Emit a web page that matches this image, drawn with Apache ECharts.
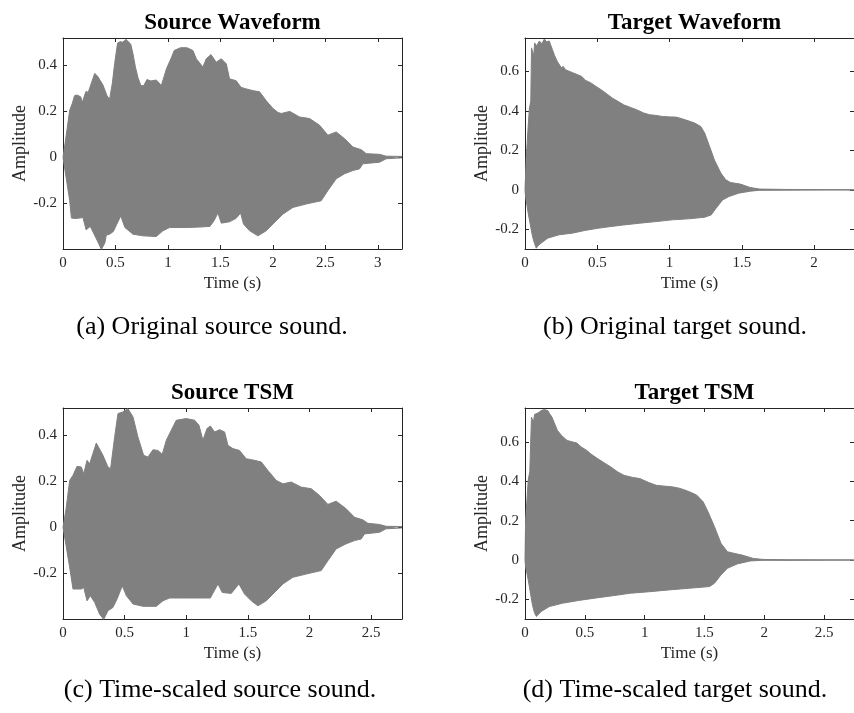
<!DOCTYPE html>
<html><head><meta charset="utf-8">
<script src="https://cdn.jsdelivr.net/npm/echarts@6/dist/echarts.min.js"></script>
<style>html,body{margin:0;padding:0;background:#fff;}#c{width:854px;height:713px;}</style>
</head><body><div id="c"></div>
<script>
// ---- Data (time in s, amplitude envelope) ----
const panelTitles = ['Source Waveform', 'Target Waveform', 'Source TSM', 'Target TSM'];
const captions = ['(a) Original source sound.', '(b) Original target sound.', '(c) Time-scaled source sound.', '(d) Time-scaled target sound.'];
const xMax = [3.23, 2.276, 2.75, 2.75];
const yMin = [-0.398, -0.30, -0.398, -0.30];
const yMax = [0.516, 0.77, 0.517, 0.773];
const xTickStep = 0.5;

const srcUpper = [[0,0],[0.02,0.06],[0.064,0.203],[0.089,0.233],[0.11,0.266],[0.134,0.269],[0.169,0.261],[0.185,0.237],[0.2,0.26],[0.22,0.285],[0.24,0.28],[0.27,0.32],[0.302,0.363],[0.33,0.35],[0.381,0.312],[0.42,0.265],[0.444,0.251],[0.47,0.32],[0.492,0.405],[0.52,0.494],[0.545,0.5],[0.57,0.498],[0.6,0.51],[0.619,0.516],[0.645,0.49],[0.667,0.447],[0.69,0.39],[0.714,0.345],[0.742,0.309],[0.77,0.31],[0.8,0.336],[0.837,0.33],[0.889,0.334],[0.937,0.31],[0.985,0.382],[1.032,0.43],[1.06,0.462],[1.12,0.474],[1.18,0.474],[1.238,0.462],[1.27,0.426],[1.333,0.39],[1.365,0.426],[1.41,0.444],[1.46,0.411],[1.508,0.426],[1.556,0.404],[1.587,0.339],[1.65,0.331],[1.697,0.302],[1.75,0.295],[1.81,0.288],[1.873,0.283],[1.937,0.244],[2.0,0.211],[2.05,0.193],[2.08,0.189],[2.16,0.198],[2.254,0.174],[2.35,0.167],[2.445,0.138],[2.524,0.095],[2.603,0.109],[2.683,0.08],[2.762,0.044],[2.842,0.032],[2.89,0.015],[3.016,0.012],[3.08,0.004],[3.23,0.003]];
const srcLower = [[0,0],[0.02,-0.06],[0.064,-0.189],[0.08,-0.264],[0.12,-0.266],[0.19,-0.262],[0.22,-0.315],[0.26,-0.30],[0.30,-0.337],[0.335,-0.37],[0.366,-0.40],[0.40,-0.37],[0.413,-0.337],[0.44,-0.335],[0.48,-0.322],[0.51,-0.293],[0.55,-0.255],[0.59,-0.305],[0.667,-0.334],[0.762,-0.341],[0.889,-0.344],[0.952,-0.319],[1.016,-0.305],[1.175,-0.305],[1.302,-0.303],[1.40,-0.30],[1.44,-0.275],[1.476,-0.242],[1.508,-0.286],[1.587,-0.28],[1.65,-0.265],[1.692,-0.242],[1.72,-0.29],[1.778,-0.319],[1.857,-0.341],[1.937,-0.319],[2.0,-0.29],[2.095,-0.247],[2.19,-0.218],[2.317,-0.203],[2.46,-0.189],[2.524,-0.145],[2.603,-0.094],[2.683,-0.072],[2.762,-0.058],[2.825,-0.051],[2.857,-0.029],[3.016,-0.022],[3.08,-0.007],[3.23,-0.003]];

const tgtUpper = [[0,0],[0.008,0.15],[0.02,0.30],[0.03,0.41],[0.04,0.45],[0.045,0.72],[0.055,0.73],[0.06,0.68],[0.067,0.745],[0.08,0.73],[0.1,0.755],[0.115,0.74],[0.134,0.765],[0.15,0.75],[0.168,0.755],[0.18,0.73],[0.19,0.711],[0.205,0.68],[0.224,0.651],[0.25,0.62],[0.265,0.625],[0.28,0.609],[0.31,0.6],[0.336,0.592],[0.36,0.585],[0.392,0.575],[0.42,0.555],[0.459,0.541],[0.49,0.525],[0.526,0.508],[0.56,0.49],[0.605,0.465],[0.64,0.45],[0.683,0.431],[0.73,0.418],[0.773,0.406],[0.82,0.39],[0.862,0.381],[0.9,0.378],[0.952,0.372],[1.0,0.37],[1.042,0.369],[1.08,0.362],[1.109,0.355],[1.15,0.345],[1.176,0.338],[1.216,0.321],[1.243,0.288],[1.277,0.22],[1.31,0.152],[1.355,0.085],[1.389,0.051],[1.422,0.037],[1.49,0.029],[1.557,0.012],[1.624,0.004],[1.8,0.002],[2.276,0.001]];
const tgtLower = [[0,0],[0.004,-0.034],[0.022,-0.118],[0.052,-0.237],[0.065,-0.27],[0.078,-0.296],[0.095,-0.28],[0.112,-0.27],[0.157,-0.245],[0.235,-0.228],[0.325,-0.22],[0.414,-0.206],[0.504,-0.195],[0.594,-0.186],[0.683,-0.178],[0.795,-0.169],[0.907,-0.161],[1.019,-0.152],[1.131,-0.147],[1.243,-0.139],[1.288,-0.127],[1.322,-0.093],[1.367,-0.051],[1.411,-0.034],[1.478,-0.017],[1.557,-0.007],[1.624,-0.002],[1.8,-0.001],[2.276,-0.001]];

const srcTsmUpper = [[0,0],[0.025,0.08],[0.054,0.203],[0.081,0.225],[0.114,0.264],[0.149,0.261],[0.168,0.232],[0.195,0.29],[0.216,0.275],[0.27,0.365],[0.324,0.312],[0.365,0.261],[0.386,0.254],[0.419,0.391],[0.446,0.493],[0.486,0.50],[0.527,0.514],[0.568,0.478],[0.608,0.391],[0.654,0.312],[0.689,0.304],[0.73,0.336],[0.77,0.333],[0.805,0.316],[0.838,0.377],[0.878,0.42],[0.919,0.464],[1.0,0.471],[1.068,0.464],[1.103,0.442],[1.135,0.377],[1.168,0.428],[1.195,0.439],[1.23,0.413],[1.27,0.423],[1.311,0.413],[1.338,0.355],[1.378,0.341],[1.432,0.333],[1.486,0.297],[1.554,0.29],[1.608,0.283],[1.662,0.246],[1.73,0.203],[1.784,0.188],[1.851,0.196],[1.932,0.174],[2.014,0.167],[2.081,0.138],[2.149,0.099],[2.216,0.113],[2.297,0.08],[2.365,0.043],[2.432,0.032],[2.473,0.017],[2.568,0.012],[2.62,0.004],[2.75,0.003]];
const srcTsmLower = [[0,0],[0.025,-0.08],[0.054,-0.174],[0.081,-0.268],[0.149,-0.268],[0.168,-0.261],[0.195,-0.319],[0.222,-0.297],[0.257,-0.326],[0.297,-0.377],[0.33,-0.40],[0.365,-0.362],[0.405,-0.348],[0.438,-0.312],[0.481,-0.254],[0.514,-0.297],[0.568,-0.333],[0.649,-0.343],[0.757,-0.343],[0.811,-0.319],[0.865,-0.307],[1.0,-0.307],[1.108,-0.307],[1.195,-0.307],[1.257,-0.246],[1.292,-0.283],[1.365,-0.287],[1.427,-0.246],[1.473,-0.29],[1.527,-0.319],[1.581,-0.341],[1.649,-0.319],[1.703,-0.29],[1.784,-0.246],[1.865,-0.217],[1.973,-0.203],[2.095,-0.188],[2.149,-0.145],[2.216,-0.094],[2.297,-0.072],[2.365,-0.058],[2.419,-0.051],[2.446,-0.029],[2.568,-0.022],[2.62,-0.007],[2.75,-0.003]];

const tgtTsmUpper = [[0,0],[0.005,0.2],[0.027,0.406],[0.04,0.45],[0.054,0.727],[0.07,0.70],[0.08,0.74],[0.095,0.744],[0.115,0.75],[0.135,0.76],[0.16,0.765],[0.19,0.76],[0.205,0.745],[0.225,0.727],[0.25,0.69],[0.271,0.659],[0.31,0.63],[0.352,0.608],[0.4,0.6],[0.433,0.595],[0.47,0.575],[0.514,0.558],[0.56,0.535],[0.609,0.515],[0.66,0.495],[0.718,0.473],[0.77,0.45],[0.826,0.431],[0.9,0.42],[0.961,0.414],[1.03,0.395],[1.097,0.38],[1.16,0.376],[1.232,0.372],[1.29,0.365],[1.34,0.355],[1.39,0.343],[1.435,0.33],[1.489,0.296],[1.53,0.245],[1.584,0.169],[1.638,0.085],[1.692,0.042],[1.747,0.034],[1.814,0.025],[1.909,0.008],[1.99,0.003],[2.2,0.001],[2.75,0.001]];
const tgtTsmLower = [[0,0],[0.005,-0.034],[0.027,-0.101],[0.062,-0.228],[0.08,-0.27],[0.095,-0.287],[0.115,-0.275],[0.135,-0.262],[0.203,-0.237],[0.311,-0.22],[0.447,-0.206],[0.582,-0.194],[0.718,-0.183],[0.88,-0.169],[1.043,-0.161],[1.205,-0.152],[1.367,-0.144],[1.543,-0.135],[1.584,-0.118],[1.638,-0.076],[1.692,-0.042],[1.774,-0.02],[1.882,-0.005],[1.99,-0.001],[2.75,-0.001]];

// ---- Layout ----
const FONT = '"Liberation Serif", "Times New Roman", serif';
const AX = '#262626';
const WAVE = '#808080';
const grids = [
  {left: 63, top: 38, width: 339, height: 211},
  {left: 525, top: 38, width: 339, height: 211},
  {left: 63, top: 408, width: 339, height: 211},
  {left: 525, top: 408, width: 339, height: 211}
];
const envelopes = [[srcUpper, srcLower], [tgtUpper, tgtLower], [srcTsmUpper, srcTsmLower], [tgtTsmUpper, tgtTsmLower]];
const captionPos = [[212, 327], [675, 327], [220, 690], [675, 690]];

const xAxes = [], yAxes = [], series = [], graphics = [];
grids.forEach((g, i) => {
  const common = {
    gridIndex: i, type: 'value',
    axisLine: {show: true, onZero: false, lineStyle: {color: AX, width: 1}},
    axisTick: {show: true, inside: true, length: 4, lineStyle: {color: AX, width: 1}},
    splitLine: {show: false}
  };
  const lab = {fontFamily: FONT, fontSize: 15, color: AX};
  xAxes.push(Object.assign({}, common, {
    position: 'bottom', min: 0, max: xMax[i], interval: xTickStep,
    axisLabel: Object.assign({margin: 7, showMinLabel: true, showMaxLabel: false}, lab),
    name: 'Time (s)', nameLocation: 'middle', nameGap: 26,
    nameTextStyle: {fontFamily: FONT, fontSize: 17, color: AX}
  }));
  xAxes.push(Object.assign({}, common, {
    position: 'top', min: 0, max: xMax[i], interval: xTickStep, axisLabel: {show: false}
  }));
  yAxes.push(Object.assign({}, common, {
    position: 'left', min: yMin[i], max: yMax[i], splitNumber: 5,
    axisLabel: Object.assign({margin: 6, showMinLabel: false, showMaxLabel: false}, lab),
    name: 'Amplitude', nameLocation: 'middle', nameGap: 34,
    nameTextStyle: {fontFamily: FONT, fontSize: 18, color: AX}
  }));
  yAxes.push(Object.assign({}, common, {
    position: 'right', min: yMin[i], max: yMax[i], splitNumber: 5, axisLabel: {show: false}
  }));
  envelopes[i].forEach((env, k) => {
    series.push({
      type: 'line', xAxisIndex: 2 * i, yAxisIndex: 2 * i, data: env,
      symbol: 'none', smooth: false, clip: true, silent: true, animation: false,
      lineStyle: {color: WAVE, width: 1},
      // small overlap of the two halves so no seam shows along zero
      areaStyle: {color: WAVE, opacity: 1, origin: k === 0 ? -0.003 : 0.003}
    });
  });
  graphics.push({
    type: 'text', x: g.left + g.width / 2, y: g.top - 15,
    style: {text: panelTitles[i], font: 'bold 23px ' + FONT, fill: '#000', textAlign: 'center', textVerticalAlign: 'middle'}
  });
  graphics.push({
    type: 'text', x: captionPos[i][0], y: captionPos[i][1],
    style: {text: captions[i], font: '26px ' + FONT, fill: '#000', textAlign: 'center', textVerticalAlign: 'middle'}
  });
});

const chart = echarts.init(document.getElementById('c'), null, {renderer: 'canvas'});
chart.setOption({
  animation: false,
  backgroundColor: '#fff',
  grid: grids,
  xAxis: xAxes,
  yAxis: yAxes,
  series: series,
  graphic: graphics
});
</script></body></html>
